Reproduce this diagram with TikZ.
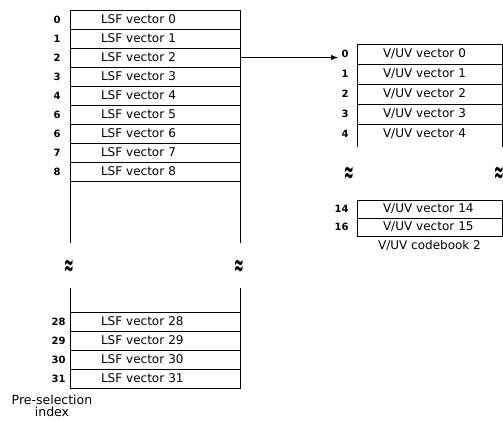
\documentclass[tikz,border=0pt]{standalone}
\usepackage{fontspec}
\setmainfont{DejaVu Sans}
\usepackage{tikz}
\usetikzlibrary{arrows.meta, positioning}

\begin{document}
\begin{tikzpicture}[x=1pt, y=-1pt, line width=0.8pt, node distance=0pt]
  \tikzset{lsfrow/.style={draw, outer sep=0pt, minimum height=19pt, text width=108pt, inner xsep=31pt, inner ysep=0pt, align=left, font=\fontsize{12}{14}\selectfont}}
  \tikzset{uvrow/.style={draw, outer sep=0pt, minimum height=20pt, text width=93pt, inner xsep=26pt, inner ysep=0pt, align=left, font=\fontsize{12}{14}\selectfont}}
  \tikzset{idx/.style={inner sep=0pt, font=\fontsize{10}{11}\selectfont\bfseries}}
  \tikzset{brk/.style={inner sep=0pt, xscale=0.6, yscale=1.5, font=\fontsize{20}{20}\selectfont\bfseries}}
  \useasboundingbox (0,0) rectangle (503,421);

  % LSF codebook, first rows
  \node[lsfrow] (l0) at (155,19.5) {LSF vector 0};
  \node[lsfrow, below=of l0] (l1) {LSF vector 1};
  \node[lsfrow, below=of l1] (l2) {LSF vector 2};
  \node[lsfrow, below=of l2] (l3) {LSF vector 3};
  \node[lsfrow, below=of l3] (l4) {LSF vector 4};
  \node[lsfrow, below=of l4] (l5) {LSF vector 5};
  \node[lsfrow, below=of l5] (l6) {LSF vector 6};
  \node[lsfrow, below=of l6] (l7) {LSF vector 7};
  \node[lsfrow, below=of l7] (l8) {LSF vector 8};
  \draw (l8.south west) -- ++(0,62); \draw (l8.south east) -- ++(0,62);
  \node[idx, left=9pt of l0] (i0) {0}; \node[idx, left=9pt of l1] (i1) {1}; \node[idx, left=9pt of l2] (i2) {2};
  \node[idx, left=9pt of l3] (i3) {3}; \node[idx, left=9pt of l4] (i4) {4}; \node[idx, left=9pt of l5] (i5) {6};
  \node[idx, left=9pt of l6] (i6) {6}; \node[idx, left=9pt of l7] (i7) {7}; \node[idx, left=9pt of l8] (i8) {8};

  \node[brk] (bl) at (69,268) {≈}; \node[brk] (br) at (239,268) {≈};

  % LSF codebook, last rows
  \node[lsfrow] (l28) at (155,321.5) {LSF vector 28};
  \node[lsfrow, below=of l28] (l29) {LSF vector 29};
  \node[lsfrow, below=of l29] (l30) {LSF vector 30};
  \node[lsfrow, below=of l30] (l31) {LSF vector 31};
  \draw (l28.north west) -- ++(0,-24); \draw (l28.north east) -- ++(0,-24);
  \node[idx, left=4pt of l28] (i28) {28}; \node[idx, left=4pt of l29] (i29) {29};
  \node[idx, left=4pt of l30] (i30) {30}; \node[idx, left=4pt of l31] (i31) {31};
  \node[align=center, font=\fontsize{12.5}{12.5}\selectfont] (psi) at (52,406) {Pre-selection\\index};

  % V/UV codebook 2
  \node[uvrow] (u0) at (429.5,54) {V/UV vector 0};
  \node[uvrow, below=of u0] (u1) {V/UV vector 1};
  \node[uvrow, below=of u1] (u2) {V/UV vector 2};
  \node[uvrow, below=of u2] (u3) {V/UV vector 3};
  \node[uvrow, draw=none, below=of u3] (u4) {V/UV vector 4};
  \draw (u4.north west) -- ++(0,23); \draw (u4.north east) -- ++(0,23);
  \node[idx, left=8pt of u0] (j0) {0}; \node[idx, left=8pt of u1] (j1) {1}; \node[idx, left=8pt of u2] (j2) {2};
  \node[idx, left=8pt of u3] (j3) {3}; \node[idx, left=8pt of u4] (j4) {4};

  \node[brk] (ul) at (349,175) {≈}; \node[brk] (ur) at (499,175) {≈};

  \node[uvrow, minimum height=18pt] (u14) at (429.5,209) {V/UV vector 14};
  \node[uvrow, minimum height=18pt, below=of u14] (u15) {V/UV vector 15};
  \node[idx, left=8pt of u14] (j14) {14}; \node[idx, left=8pt of u15] (j15) {16};
  \node[below=4pt of u15, inner sep=0pt, font=\fontsize{12}{14}\selectfont] (cb) {V/UV codebook 2};

  % pre-selection link
  \draw[-{Latex[length=7pt, width=5pt]}, shorten >=3pt] (l2.east) -- (l2.east -| j0.west);
\end{tikzpicture}
\end{document}
